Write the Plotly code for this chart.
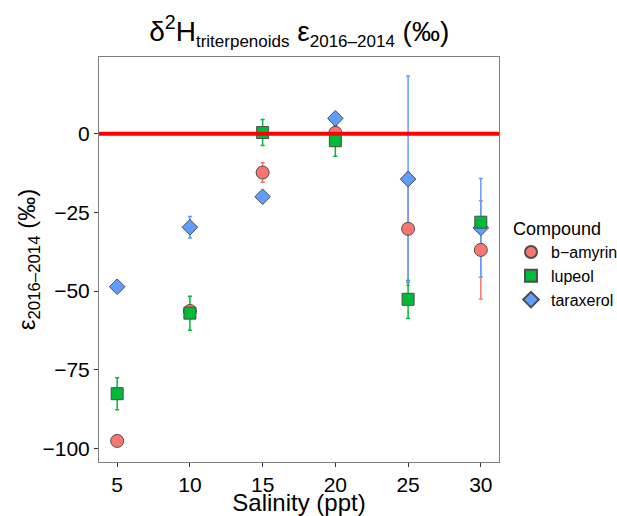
import plotly.graph_objects as go

salinity = [5, 10, 15, 20, 25, 30]
compounds = ["b\u2212amyrin", "lupeol", "taraxerol"]

bamyrin_mean = [-97.6, -56.3, -12.3, 0.3, -30.2, -36.9]
bamyrin_err = [0.0, 0.0, 3.1, 0.0, 18.0, 15.6]
lupeol_mean = [-82.6, -57.0, 0.4, -2.2, -52.6, -28.1]
lupeol_err = [5.1, 5.4, 4.1, 4.9, 6.0, 1.0]
taraxerol_mean = [-48.6, -29.7, -20.0, 4.9, -14.4, -29.9]
taraxerol_err = [0.6, 3.4, 0.0, 0.0, 32.8, 15.7]

x_ticks = [5, 10, 15, 20, 25, 30]
y_ticks = [0, -25, -50, -75, -100]

series = [
    dict(name=compounds[0], y=bamyrin_mean, e=bamyrin_err, color="#F8766D", symbol="circle", size=13, rank=1),
    dict(name=compounds[1], y=lupeol_mean, e=lupeol_err, color="#00BA38", symbol="square", size=12, rank=2),
    dict(name=compounds[2], y=taraxerol_mean, e=taraxerol_err, color="#619CFF", symbol="diamond", size=12, rank=3),
]

fig = go.Figure()

# error bars first
for s in series:
    fig.add_trace(go.Scatter(
        x=salinity, y=s["y"], mode="markers",
        marker=dict(size=1, color="rgba(0,0,0,0)"),
        error_y=dict(type="data", array=s["e"], visible=True, color=s["color"], thickness=1.5, width=2),
        showlegend=False, hoverinfo="skip",
    ))

# points: draw order b-amyrin, taraxerol, lupeol
for idx in [0, 2, 1]:
    s = series[idx]
    fig.add_trace(go.Scatter(
        x=salinity, y=s["y"], mode="markers", name=s["name"],
        marker=dict(symbol=s["symbol"], size=s["size"], color=s["color"],
                    line=dict(color="#4d4d4d", width=1)),
        legendrank=s["rank"],
    ))

fig.add_shape(type="line", xref="paper", x0=0, x1=1, yref="y", y0=0, y1=0,
              line=dict(color="#FF0000", width=4), layer="above")

title_txt = ("\u03b4<sup>2</sup>H<sub><span style='font-size:17px'>triterpenoids</span></sub> "
             "\u03b5<sub><span style='font-size:17px'>2016\u20132014</span></sub> (\u2030)")

fig.update_layout(
    width=617, height=516,
    margin=dict(l=99, r=118, t=57, b=54, autoexpand=False),
    paper_bgcolor="white", plot_bgcolor="white",
    font=dict(family="Liberation Sans, Arial, sans-serif", color="black"),
    title=dict(text=title_txt,
               x=0.485, xanchor="center", y=0.94, yanchor="middle",
               font=dict(size=28, color="black")),
    legend=dict(title=dict(text="Compound", font=dict(size=18)),
                font=dict(size=16), x=1.03, xanchor="left", y=0.618, yanchor="top",
                itemsizing="constant", tracegroupgap=0),
    showlegend=True,
)
fig.update_xaxes(range=[3.75, 31.25], tickvals=x_ticks, ticktext=[str(v) for v in x_ticks],
                 showgrid=False, zeroline=False, showline=True, mirror=True, automargin=False,
                 linecolor="#7f7f7f", linewidth=1, ticks="outside", ticklen=4,
                 tickcolor="#333333", tickfont=dict(size=21, color="black"),
                 title=dict(text="Salinity (ppt)", font=dict(size=24), standoff=0))
fig.update_yaxes(range=[-104.3, 24.4], tickvals=y_ticks,
                 ticktext=["0", "\u221225", "\u221250", "\u221275", "\u2212100"],
                 showgrid=False, zeroline=False, showline=True, mirror=True, automargin=False,
                 linecolor="#7f7f7f", linewidth=1, ticks="outside", ticklen=4,
                 tickcolor="#333333", tickfont=dict(size=21, color="black"),
                 title=dict(text="\u03b5<sub>2016\u20132014</sub> (\u2030)", font=dict(size=24), standoff=0))

fig.write_html("out.html")
